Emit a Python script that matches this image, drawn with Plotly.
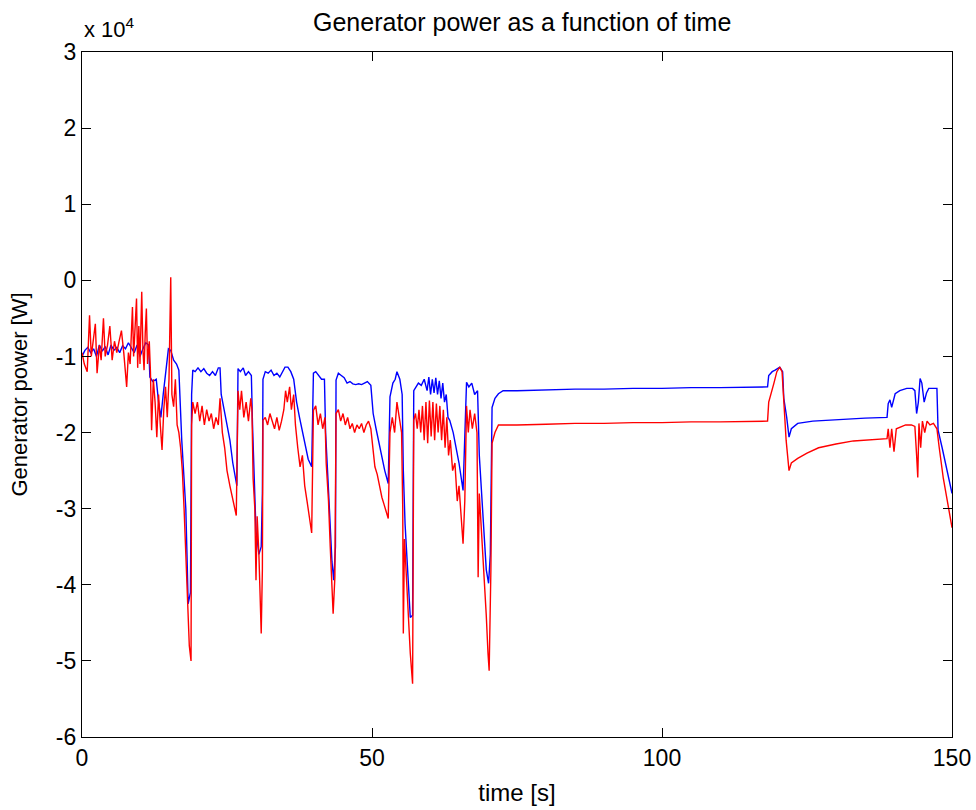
import plotly.graph_objects as go

# Values in units of 1e4 W (axis shows "x 10^4")
blue_t = [0, 0.5, 1, 1.5, 2, 2.5, 3, 3.5, 4, 4.5, 5, 5.5, 6, 6.5, 7, 7.5, 8, 8.5, 9, 9.5, 10, 10.5, 11, 11.5,
          11.7, 12.2, 12.8, 13.2, 13.6, 14.0, 14.5, 14.9, 15.3, 15.8, 16.3, 16.7, 17.2, 17.6, 17.9, 18.1, 18.3, 18.7, 18.9, 19.1,
          19.5, 20, 20.5, 21, 21.5, 22, 22.5, 23, 23.5, 23.8,
          24.0, 24.5, 25, 25.5, 26, 26.6, 26.7, 26.9,
          27.3, 27.8, 28.2, 28.7, 29.2,
          29.4, 29.7, 30, 30.2, 30.5, 30.9, 31.1, 31.2,
          31.6, 32.1, 32.6, 33.1, 33.6, 34.1, 34.6, 35.0, 35.5, 36.0, 36.5,
          37, 37.5, 38, 38.5, 39, 39.6, 39.9,
          40.3, 40.8, 41.3, 41.8,
          42.0, 42.4, 42.8, 43.1, 43.4, 43.7, 43.8,
          44.2, 44.7, 45.2, 45.7, 46.2, 46.7, 47.2, 47.7, 48.2, 48.7, 49.2, 49.8,
          50.2, 50.7, 51.2, 51.7, 52.2, 52.8, 53.1, 53.6, 54.0, 54.3, 54.8, 55.2,
          55.4, 55.7, 56.0, 56.3, 56.6, 57.0, 57.2,
          57.6, 58, 58.5, 59, 59.5, 59.8, 60.1, 60.4, 60.7, 61, 61.3, 61.6, 61.9, 62.2, 62.5, 62.8, 63.1,
          63.4, 64, 64.5, 65, 65.7, 66.3,
          66.7, 67.2, 67.7, 68.2,
          68.5, 68.9, 69.3, 69.7, 70.1, 70.4, 70.7, 71.2, 71.8, 72.6,
          75, 80, 85, 90, 95, 100, 105, 110, 115, 118.2,
          118.4, 119, 119.5, 120.3, 120.8, 121.0, 121.5, 121.9, 122.3, 123.4, 126, 130, 135, 138.8,
          139.0, 139.3, 139.6, 140.2, 141, 142.2, 143.2, 143.6, 143.9, 144.2, 144.5, 144.8, 145.2, 145.6, 146.0, 147.4,
          147.6, 148.3, 149, 150]
blue_p = [-1.0, -0.92, -0.88, -0.95, -0.9, -1.0, -0.85, -0.93, -0.87, -0.98, -0.85, -0.92, -0.88, -0.95, -0.86, -0.9, -0.82, -0.88, -0.95, -0.85, -1.0, -0.9, -0.82, -0.85,
          -1.27, -1.33, -1.3, -1.6, -1.8, -1.5, -1.2, -0.9, -0.92, -1.05, -1.1, -1.18, -2.1, -2.6, -3.0, -3.6, -4.25, -4.1, -1.5, -1.18,
          -1.2, -1.15, -1.2, -1.16, -1.22, -1.25, -1.2, -1.25, -1.15, -1.15,
          -1.5, -1.7, -1.9, -2.1, -2.4, -2.65, -2.7, -1.16,
          -1.2, -1.15, -1.25, -1.2, -1.25,
          -1.9, -2.6, -3.3, -3.4, -3.6, -3.5, -2.8, -1.3,
          -1.2, -1.22, -1.18, -1.25, -1.22, -1.27, -1.2, -1.14, -1.14, -1.2, -1.3,
          -1.6, -1.8, -2.0, -2.2, -2.35, -2.45, -1.22,
          -1.2, -1.25, -1.3, -1.3,
          -2.0, -2.6, -3.3, -3.7, -3.94, -3.5, -1.31,
          -1.22, -1.25, -1.28, -1.35, -1.33, -1.36, -1.37, -1.36, -1.37, -1.35, -1.33, -1.38,
          -1.75, -1.95, -2.15, -2.35, -2.5, -2.67, -1.53, -1.35, -1.3, -1.2, -1.3, -1.5,
          -2.5, -3.2, -3.6, -4.0, -4.43, -4.4, -1.45,
          -1.4, -1.35, -1.38, -1.3, -1.45, -1.27, -1.5, -1.3, -1.48, -1.28, -1.5, -1.32, -1.55, -1.35, -1.6, -1.5, -1.8,
          -1.84, -2.0, -2.2, -2.4, -2.76, -1.34,
          -1.4, -1.35, -1.5, -1.45,
          -2.3, -2.76, -3.3, -3.8, -3.98, -3.6, -1.67, -1.55, -1.49, -1.45,
          -1.45, -1.44, -1.43, -1.43, -1.42, -1.42, -1.41, -1.41, -1.40, -1.40,
          -1.25, -1.2, -1.18, -1.14, -1.2, -1.55, -1.8, -2.06, -1.95, -1.88, -1.85, -1.83, -1.81, -1.80,
          -1.62, -1.57, -1.67, -1.49, -1.45, -1.42, -1.42, -1.45, -1.75, -1.6, -1.29, -1.35, -1.6, -1.48, -1.42, -1.42,
          -1.97, -2.2, -2.45, -2.8]

red_t = [0, 0.4, 0.9, 1.3, 1.6, 1.9, 2.3, 2.6, 3.0, 3.3, 3.7, 4.0, 4.4, 4.8, 5.2, 5.6, 6.0, 6.4, 6.8, 7.2, 7.7, 8.0, 8.3, 8.7, 8.9, 9.1, 9.4, 9.6, 9.8, 10.0, 10.3, 10.5, 10.7, 10.9, 11.1, 11.3, 11.6, 11.8,
         12.0, 12.3, 12.6, 12.9, 13.2, 13.5, 13.8, 14.1, 14.4, 14.7, 15.0, 15.3, 15.5, 15.8, 16.1, 16.4, 16.7, 17.0, 17.3, 17.6, 17.9, 18.2, 18.5, 18.8, 18.9, 19.1,
         19.5, 19.9, 20.3, 20.7, 21.1, 21.5, 21.9, 22.3, 22.7, 23.1, 23.5, 23.8,
         24.2, 24.6, 25.0, 25.5, 26.0, 26.6, 26.9,
         27.2, 27.5, 27.9, 28.3, 28.7, 29.1, 29.3,
         29.5, 29.8, 30.0, 30.2, 30.5, 30.8, 30.9, 31.1, 31.2,
         31.6, 32.0, 32.4, 32.8, 33.2, 33.6, 34.0, 34.4, 34.8, 35.1, 35.4, 35.8, 36.1, 36.5,
         36.8, 37.2, 37.6, 38.0, 38.4, 38.8, 39.2, 39.6, 39.9,
         40.3, 40.7, 41.1, 41.5, 41.9,
         42.1, 42.5, 42.8, 43.1, 43.3, 43.6, 43.8,
         44.2, 44.6, 45.0, 45.4, 45.8, 46.2, 46.6, 47.0, 47.4, 47.8, 48.2, 48.6, 49.0, 49.4, 49.8,
         50.1, 50.5, 50.9, 51.3, 51.7, 52.1, 52.5, 52.8, 53.1, 53.5, 53.9, 54.3, 54.7, 55.1,
         55.3, 55.4, 55.6, 55.9, 56.2, 56.6, 57.0, 57.2,
         57.5, 57.8, 58.1, 58.4, 58.7, 59.0, 59.3, 59.6, 59.9, 60.2, 60.5, 60.8, 61.1, 61.4, 61.7, 62.0, 62.3, 62.6, 62.9, 63.2,
         63.5, 63.9, 64.3, 64.7, 65.0, 65.4, 65.7, 66.0, 66.3, 66.6, 66.9, 67.3, 67.7, 68.1,
         68.3, 68.5, 68.9, 69.3, 69.7, 70.0, 70.2, 70.5, 70.7, 71.2, 71.8, 72.6,
         75, 80, 85, 90, 95, 100, 105, 110, 115, 118.2,
         118.4, 118.8, 119.3, 119.8, 120.3, 120.7, 121.0, 121.4, 121.9, 122.3, 123.4, 125, 127, 130, 133, 136, 138.8,
         139.0, 139.3, 139.6, 140.0, 140.4, 141, 142, 143, 143.6, 143.9, 144.1, 144.3, 144.6, 144.9, 145.3, 145.7, 146.2, 146.8, 147.4,
         147.8, 148.5, 149.2, 150]
red_p = [-0.95, -1.1, -1.2, -0.46, -1.0, -0.8, -0.57, -1.22, -0.85, -1.05, -0.5, -1.0, -0.85, -0.6, -1.05, -0.8, -0.95, -0.8, -0.66, -0.95, -1.4, -0.95, -1.1, -0.35, -1.0, -0.7, -0.24, -1.15, -0.6, -1.1, -0.15, -0.9, -1.18, -0.7, -0.37, -1.1, -0.8, -1.2,
         -1.97, -1.3, -1.6, -2.06, -1.5, -1.9, -2.23, -1.7, -1.4, -1.8, -1.3, 0.04, -1.5, -1.66, -1.3, -1.9, -2.0, -2.2, -2.5, -3.0, -3.6, -4.2, -4.8, -5.0, -1.9, -1.6,
         -1.75, -1.6, -1.85, -1.65, -1.9, -1.7, -1.85, -1.75, -1.95, -1.8, -1.9, -1.55,
         -2.0, -2.2, -2.5, -2.7, -2.9, -3.09, -1.45,
         -1.7, -1.45, -1.8, -1.6, -1.85, -1.55, -1.7,
         -2.6, -3.0, -3.94, -3.1, -3.6, -4.2, -4.64, -3.8, -1.84,
         -1.8, -1.9, -1.75, -1.85, -1.95, -1.8, -1.97, -1.85, -1.7, -1.45, -1.6, -1.4, -1.7, -1.5,
         -1.9, -2.2, -2.45, -2.3, -2.7, -2.9, -3.1, -3.32, -1.71,
         -1.65, -1.9, -1.75, -1.95, -1.8,
         -2.4, -2.9, -3.5, -4.0, -4.38, -3.9, -1.75,
         -1.7, -1.85, -1.75, -1.9, -1.8, -1.95, -1.88, -2.0, -1.9, -1.95, -1.88, -2.0, -1.9, -1.85, -1.95,
         -2.2, -2.45, -2.55, -2.7, -2.85, -2.95, -3.05, -3.13, -2.0, -1.8, -2.0, -1.6, -1.8, -2.0,
         -3.0, -4.64, -3.4, -3.9, -4.4, -4.9, -5.3, -1.84,
         -1.75, -1.95, -1.7, -2.0, -1.65, -2.1, -1.6, -2.14, -1.58, -2.05, -1.6, -2.1, -1.62, -2.0, -1.65, -2.1, -1.7, -2.2, -1.8, -2.3,
         -2.1, -2.5, -2.4, -2.9, -2.7, -3.2, -3.46, -2.9, -1.65, -2.0, -1.7, -1.95, -1.75, -2.0,
         -3.9, -2.8, -3.3, -3.8, -4.4, -4.9, -5.13, -3.8, -2.14, -2.0, -1.9, -1.9,
         -1.9, -1.89, -1.88, -1.88, -1.87, -1.87, -1.86, -1.86, -1.85, -1.85,
         -1.6, -1.5, -1.35, -1.2, -1.14, -1.2, -1.6, -2.1, -2.5, -2.4, -2.34, -2.27, -2.2, -2.15, -2.11, -2.09, -2.08,
         -1.95, -2.2, -1.95, -2.25, -1.95, -1.93, -1.9, -1.9, -1.92, -2.3, -2.59, -1.88, -2.2, -1.85, -2.0, -1.85, -1.9, -1.88, -1.95,
         -2.2, -2.6, -2.9, -3.25]

x_ticks = [0, 50, 100, 150]
y_ticks = [-6, -5, -4, -3, -2, -1, 0, 1, 2, 3]

FONT = "Liberation Sans"

fig = go.Figure()
fig.add_trace(go.Scatter(x=blue_t, y=blue_p, mode="lines",
                         line=dict(color="#0000ff", width=1.4), showlegend=False))
fig.add_trace(go.Scatter(x=red_t, y=red_p, mode="lines",
                         line=dict(color="#ff0000", width=1.4), showlegend=False))

axis_common = dict(showgrid=False, zeroline=False, showline=True, linecolor="#000000",
                   linewidth=1.2, mirror="ticks", ticks="inside", ticklen=9,
                   tickcolor="#000000", tickwidth=1.2, automargin=False,
                   ticklabeloverflow="allow",
                   tickfont=dict(family=FONT, size=23, color="#000000"))

fig.update_layout(
    width=976, height=810,
    paper_bgcolor="white", plot_bgcolor="white",
    margin=dict(l=82, r=24, t=52, b=73),
    title=dict(text="Generator power as a function of time", x=0.535, xanchor="center",
               y=0.972, yanchor="middle", font=dict(family=FONT, size=25, color="#000000")),
    xaxis=dict(range=[0, 150], tickvals=x_ticks, ticktext=[str(v) for v in x_ticks],
               title=dict(text="time [s]", font=dict(family=FONT, size=24, color="#000000"), standoff=14),
               **axis_common),
    yaxis=dict(range=[-6, 3], tickvals=y_ticks, ticktext=[str(v) for v in y_ticks],
               title=dict(text="Generator power [W]", font=dict(family=FONT, size=22, color="#000000"), standoff=22),
               **axis_common),
    annotations=[dict(text="x 10<sup>4</sup>", xref="paper", yref="paper", x=0.0, y=1.0,
                      xanchor="left", yanchor="bottom", showarrow=False, yshift=8,
                      font=dict(family=FONT, size=22, color="#000000"))],
)

fig.write_html("out.html")
